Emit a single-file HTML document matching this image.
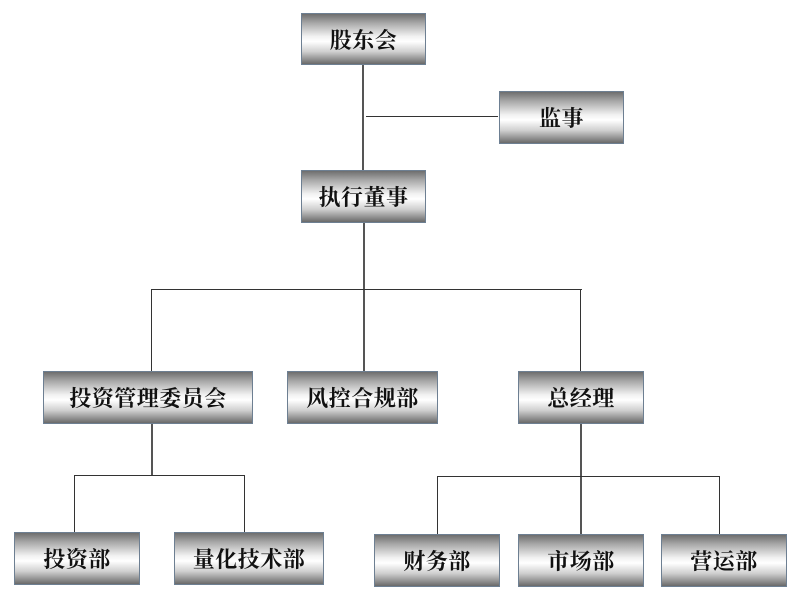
<!DOCTYPE html>
<html><head><meta charset="utf-8"><style>
body{margin:0;width:800px;height:596px;background:#fff;position:relative;overflow:hidden}
.b{position:absolute;box-sizing:border-box;border:1px solid #6d7f92;
background:linear-gradient(to bottom,#6e6e6e 0%,#a8a8a8 18%,#f2f2f2 45%,#ffffff 55%,#d0d0d0 75%,#6a6a6a 100%);
display:flex;align-items:center;justify-content:center;
font-family:"Liberation Serif","Noto Serif CJK SC",serif;font-weight:bold;font-size:22px;color:#111;letter-spacing:0.5px}
.l{position:absolute;background:#333}
.v{position:absolute;background:#555}
</style></head><body>
<div class="v" style="left:362px;top:64px;width:2px;height:107px"></div>
<div class="l" style="left:366px;top:116px;width:132px;height:1px"></div>
<div class="v" style="left:363px;top:222px;width:2px;height:149px"></div>
<div class="l" style="left:152px;top:289px;width:430px;height:1px"></div>
<div class="l" style="left:151px;top:289px;width:1px;height:82px"></div>
<div class="l" style="left:580px;top:289px;width:1px;height:82px"></div>
<div class="v" style="left:151px;top:423px;width:2px;height:52px"></div>
<div class="l" style="left:74px;top:475px;width:171px;height:1px"></div>
<div class="l" style="left:74px;top:475px;width:1px;height:57px"></div>
<div class="l" style="left:244px;top:475px;width:1px;height:57px"></div>
<div class="v" style="left:580px;top:423px;width:2px;height:111px"></div>
<div class="l" style="left:437px;top:476px;width:283px;height:1px"></div>
<div class="l" style="left:437px;top:476px;width:1px;height:58px"></div>
<div class="l" style="left:719px;top:476px;width:1px;height:58px"></div>

<div class="b" style="left:301px;top:13px;width:125px;height:52px">股东会</div>
<div class="b" style="left:499px;top:91px;width:125px;height:53px">监事</div>
<div class="b" style="left:301px;top:170px;width:125px;height:53px">执行董事</div>
<div class="b" style="left:43px;top:371px;width:210px;height:53px">投资管理委员会</div>
<div class="b" style="left:287px;top:371px;width:151px;height:53px">风控合规部</div>
<div class="b" style="left:518px;top:371px;width:126px;height:53px">总经理</div>
<div class="b" style="left:14px;top:532px;width:126px;height:53px">投资部</div>
<div class="b" style="left:174px;top:532px;width:150px;height:53px">量化技术部</div>
<div class="b" style="left:374px;top:534px;width:126px;height:53px">财务部</div>
<div class="b" style="left:518px;top:534px;width:126px;height:53px">市场部</div>
<div class="b" style="left:661px;top:534px;width:126px;height:53px">营运部</div>
</body></html>
